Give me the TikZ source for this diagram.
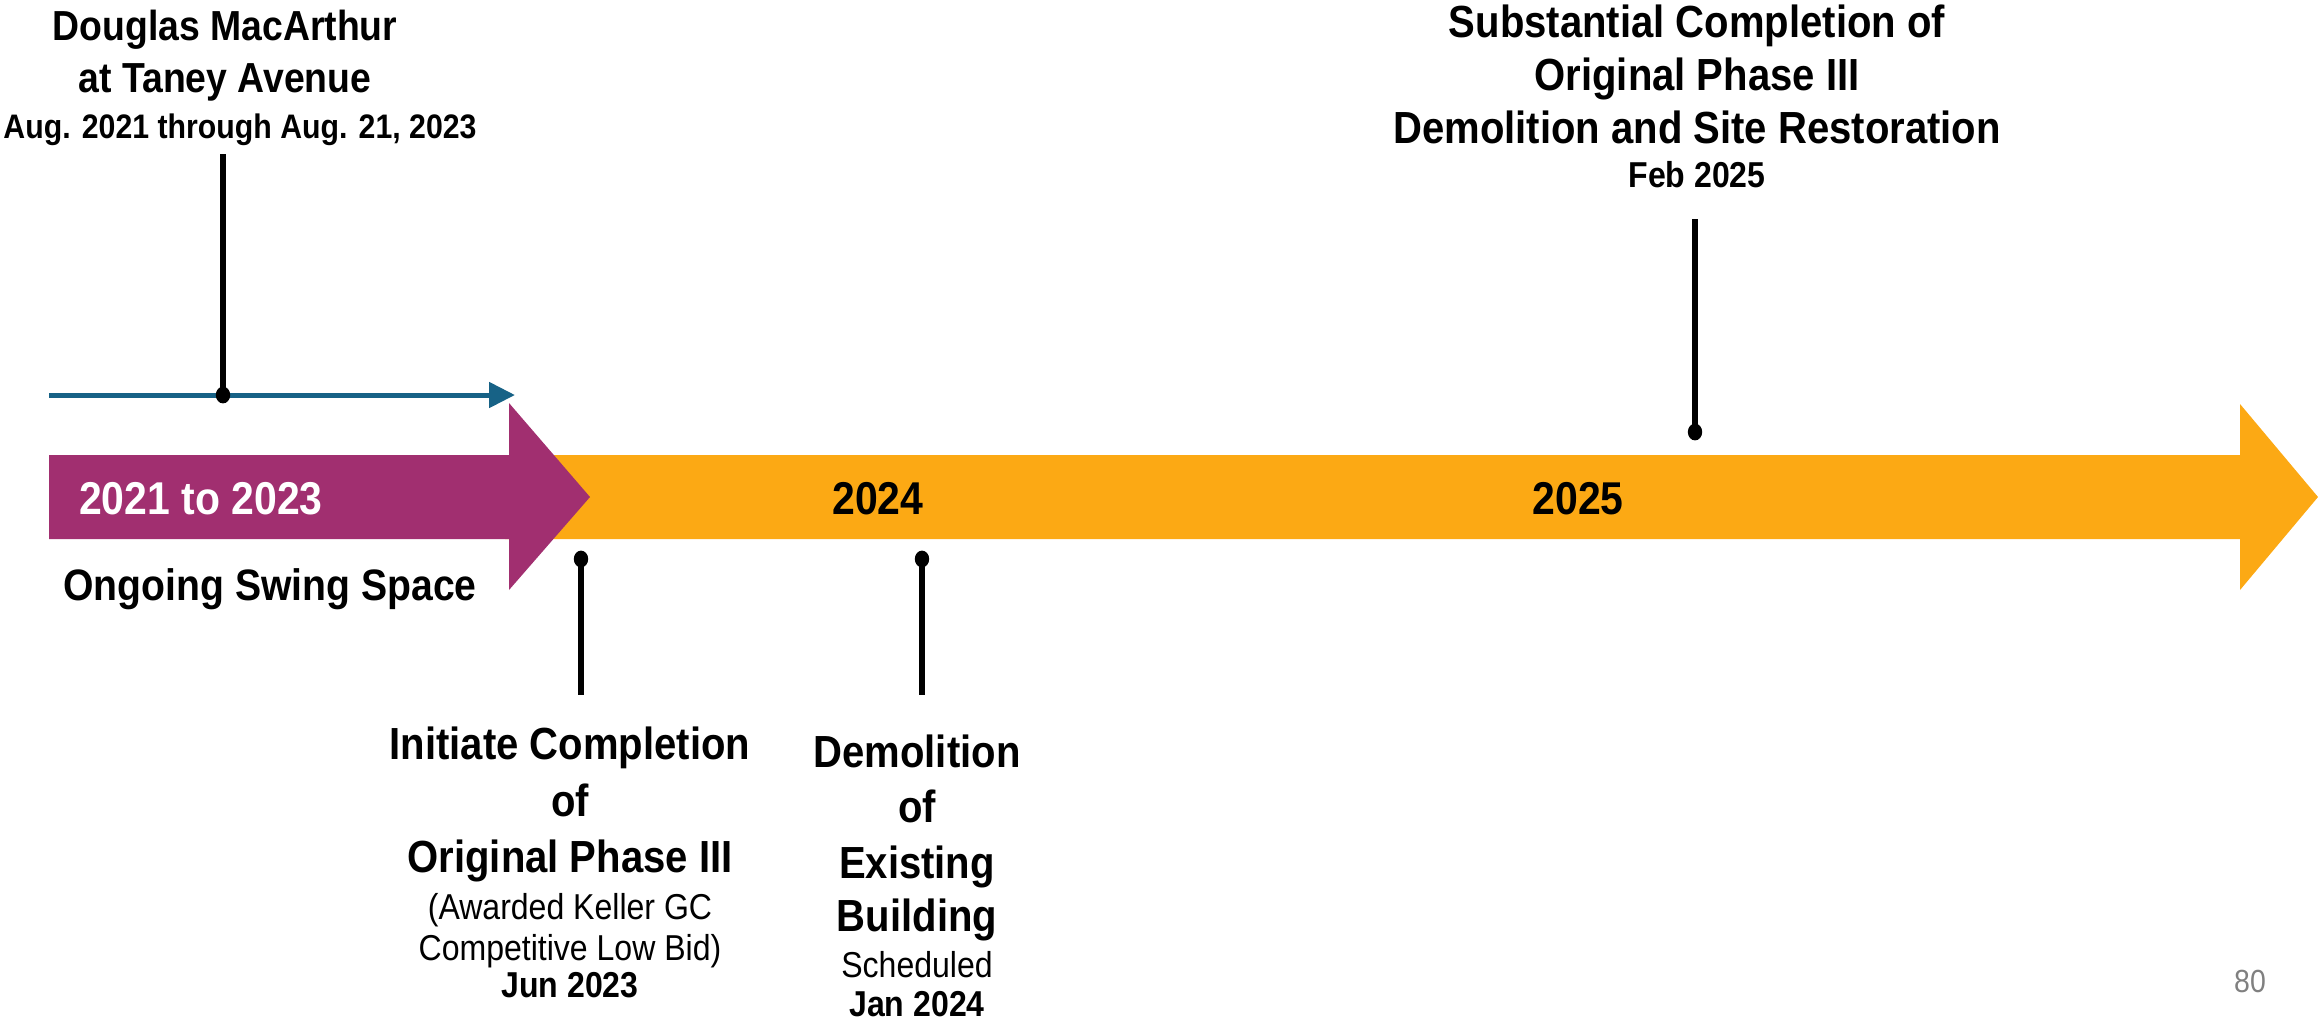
\documentclass[tikz,border=0pt]{standalone}
\usepackage{fontspec}
\setmainfont{Liberation Sans}[FakeStretch=0.89]
\usetikzlibrary{arrows.meta}
\definecolor{orangeA}{RGB}{252,169,20}
\definecolor{magentaA}{RGB}{161,47,112}
\definecolor{blueA}{RGB}{23,98,134}
\definecolor{grayA}{RGB}{128,128,128}
\begin{document}
\begin{tikzpicture}[x=0.5pt,y=-0.5pt,
  lbl/.style={anchor=base, inner sep=0pt},
  bigb/.style={lbl, font=\fontsize{22.5}{27}\selectfont\bfseries},
  medb/.style={lbl, font=\fontsize{21}{25}\selectfont\bfseries},
  datb/.style={lbl, font=\fontsize{17}{20}\selectfont\bfseries},
  smb/.style={lbl, font=\fontsize{18}{21}\selectfont\bfseries},
  smr/.style={lbl, font=\fontsize{18}{21}\selectfont},
  yearlbl/.style={lbl, font=\fontsize{23}{27}\selectfont\bfseries},
  stem/.style={line width=2.6pt, black},
  dotmark/.style={fill=black}
]
\useasboundingbox (0,0) rectangle (2318,1019);

% orange arrow (2024 - 2025)
\fill[orangeA] (505,455) -- (2240,455) -- (2240,404) -- (2318,497) -- (2240,590) -- (2240,539) -- (505,539) -- cycle;
% magenta arrow (2021 to 2023)
\fill[magentaA] (49,455) -- (509,455) -- (509,403) -- (590,497) -- (509,590) -- (509,539) -- (49,539) -- cycle;

% blue arrow
\coordinate (bs) at (49,395);
\coordinate (be) at (515,395);
\draw[blueA, line width=2.5pt, -{Triangle[length=13pt,width=12.5pt]}] (bs) -- (be);

% year labels
\node[yearlbl, text=white] (y1) at (201,514) {2021 to 2023};
\node[yearlbl] (y2) at (878,514) {2024};
\node[yearlbl] (y3) at (1578,514) {2025};
\node[lbl, font=\fontsize{22}{26}\selectfont\bfseries] (swing) at (270,600) {Ongoing Swing Space};

% markers
\coordinate (macdot) at (223,395);
\coordinate (mactop) at (223,154);
\coordinate (jundot) at (581,559);
\coordinate (junend) at (581,695);
\coordinate (jandot) at (922,559);
\coordinate (janend) at (922,695);
\coordinate (febdot) at (1695,432);
\coordinate (febtop) at (1695,219);

\draw[stem] (macdot) -- (mactop);
\draw[stem] (jundot) -- (junend);
\draw[stem] (jandot) -- (janend);
\draw[stem] (febdot) -- (febtop);
\fill[dotmark] (macdot) ellipse [x radius=3.6pt, y radius=4.2pt];
\fill[dotmark] (jundot) ellipse [x radius=3.6pt, y radius=4.2pt];
\fill[dotmark] (jandot) ellipse [x radius=3.6pt, y radius=4.2pt];
\fill[dotmark] (febdot) ellipse [x radius=3.6pt, y radius=4.2pt];

% MacArthur block
\node[medb] (mac1) at (225,40) {Douglas MacArthur};
\node[medb] (mac2) at (225,92) {at Taney Avenue};
\node[datb] (mac3) at (240,138) {Aug. 2021 through Aug. 21, 2023};

% Substantial completion block
\node[bigb] (sub1) at (1697,37) {Substantial Completion of};
\node[bigb] (sub2) at (1697,90) {Original Phase III};
\node[bigb] (sub3) at (1697,143) {Demolition and Site Restoration};
\node[smb] (sub4) at (1697,187) {Feb 2025};

% Initiate completion block
\node[bigb] (ini1) at (570,759) {Initiate Completion};
\node[bigb] (ini2) at (570,816) {of};
\node[bigb] (ini3) at (570,872) {Original Phase III};
\node[smr] (ini4) at (570,919) {(Awarded Keller GC};
\node[smr] (ini5) at (570,960) {Competitive Low Bid)};
\node[smb] (ini6) at (570,997) {Jun 2023};

% Demolition block
\node[bigb] (dem1) at (917,767) {Demolition};
\node[bigb] (dem2) at (917,822) {of};
\node[bigb] (dem3) at (917,878) {Existing};
\node[bigb] (dem4) at (917,931) {Building};
\node[smr] (dem5) at (917,977) {Scheduled};
\node[smb] (dem6) at (917,1016) {Jan 2024};

% page number
\node[lbl, font=\fontsize{16}{19}\selectfont, text=grayA] (pg) at (2250,992) {80};
\end{tikzpicture}
\end{document}
